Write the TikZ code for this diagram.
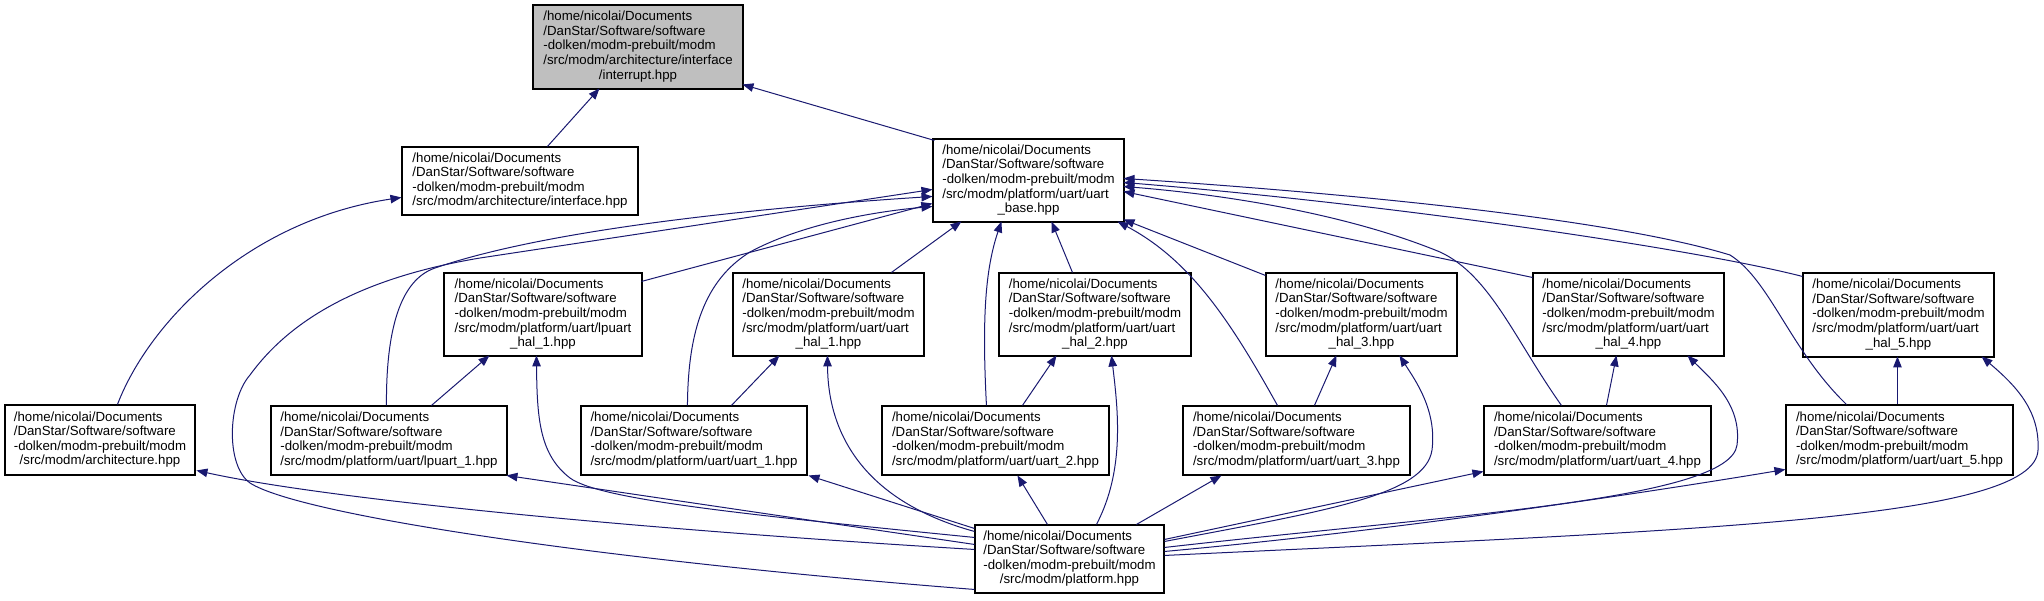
\documentclass[tikz,border=0pt]{standalone}
\usepackage{fontspec}
\setmainfont{Liberation Sans}
\usetikzlibrary{arrows.meta,calc}
\definecolor{edgecol}{HTML}{191970}
\definecolor{hlfill}{HTML}{BFBFBF}
\newcommand\flbl[2]{\begin{tabular}{@{}l@{}}#1\\\multicolumn{1}{@{}c@{}}{#2}\end{tabular}}
\begin{document}
\begin{tikzpicture}[x=1pt,y=-1pt,
  filebox/.style={draw=black, line width=1.1pt, inner sep=0pt, fill=white,
    font=\fontsize{13.25}{14.6}\selectfont},
  dep/.style={draw=edgecol, line width=1pt, -{Triangle[length=11pt,width=8.5pt]}}]
\useasboundingbox (0,0) rectangle (2044,600);
% nodes
\node[filebox, fill=hlfill, minimum width=210pt, minimum height=84pt] (intr) at (638,47)
  {\flbl{/home/nicolai/Documents\\/DanStar/Software/software\\-dolken/modm-prebuilt/modm\\/src/modm/architecture/interface}{/interrupt.hpp}};
\node[filebox, minimum width=236pt, minimum height=68pt] (iface) at (520,181)
  {\flbl{/home/nicolai/Documents\\/DanStar/Software/software\\-dolken/modm-prebuilt/modm}{/src/modm/architecture/interface.hpp}};
\node[filebox, minimum width=191pt, minimum height=83pt] (ubase) at (1028.5,180.5)
  {\flbl{/home/nicolai/Documents\\/DanStar/Software/software\\-dolken/modm-prebuilt/modm\\/src/modm/platform/uart/uart}{\_base.hpp}};
\node[filebox, minimum width=190pt, minimum height=70pt] (arch) at (100,440)
  {\flbl{/home/nicolai/Documents\\/DanStar/Software/software\\-dolken/modm-prebuilt/modm}{/src/modm/architecture.hpp}};
\node[filebox, minimum width=198pt, minimum height=83pt] (lph1) at (543,314.5)
  {\flbl{/home/nicolai/Documents\\/DanStar/Software/software\\-dolken/modm-prebuilt/modm\\/src/modm/platform/uart/lpuart}{\_hal\_1.hpp}};
\node[filebox, minimum width=191pt, minimum height=83pt] (uh1) at (828.5,314.5)
  {\flbl{/home/nicolai/Documents\\/DanStar/Software/software\\-dolken/modm-prebuilt/modm\\/src/modm/platform/uart/uart}{\_hal\_1.hpp}};
\node[filebox, minimum width=192pt, minimum height=83pt] (uh2) at (1095,314.5)
  {\flbl{/home/nicolai/Documents\\/DanStar/Software/software\\-dolken/modm-prebuilt/modm\\/src/modm/platform/uart/uart}{\_hal\_2.hpp}};
\node[filebox, minimum width=191pt, minimum height=83pt] (uh3) at (1361.5,314.5)
  {\flbl{/home/nicolai/Documents\\/DanStar/Software/software\\-dolken/modm-prebuilt/modm\\/src/modm/platform/uart/uart}{\_hal\_3.hpp}};
\node[filebox, minimum width=191pt, minimum height=83pt] (uh4) at (1628.5,314.5)
  {\flbl{/home/nicolai/Documents\\/DanStar/Software/software\\-dolken/modm-prebuilt/modm\\/src/modm/platform/uart/uart}{\_hal\_4.hpp}};
\node[filebox, minimum width=191pt, minimum height=84pt] (uh5) at (1898.5,315)
  {\flbl{/home/nicolai/Documents\\/DanStar/Software/software\\-dolken/modm-prebuilt/modm\\/src/modm/platform/uart/uart}{\_hal\_5.hpp}};
\node[filebox, minimum width=236pt, minimum height=69pt] (lp1) at (389,440.5)
  {\flbl{/home/nicolai/Documents\\/DanStar/Software/software\\-dolken/modm-prebuilt/modm}{/src/modm/platform/uart/lpuart\_1.hpp}};
\node[filebox, minimum width=226pt, minimum height=69pt] (u1) at (694,440.5)
  {\flbl{/home/nicolai/Documents\\/DanStar/Software/software\\-dolken/modm-prebuilt/modm}{/src/modm/platform/uart/uart\_1.hpp}};
\node[filebox, minimum width=227pt, minimum height=69pt] (u2) at (995.5,440.5)
  {\flbl{/home/nicolai/Documents\\/DanStar/Software/software\\-dolken/modm-prebuilt/modm}{/src/modm/platform/uart/uart\_2.hpp}};
\node[filebox, minimum width=227pt, minimum height=69pt] (u3) at (1296.5,440.5)
  {\flbl{/home/nicolai/Documents\\/DanStar/Software/software\\-dolken/modm-prebuilt/modm}{/src/modm/platform/uart/uart\_3.hpp}};
\node[filebox, minimum width=227pt, minimum height=69pt] (u4) at (1597.5,440.5)
  {\flbl{/home/nicolai/Documents\\/DanStar/Software/software\\-dolken/modm-prebuilt/modm}{/src/modm/platform/uart/uart\_4.hpp}};
\node[filebox, minimum width=227pt, minimum height=70pt] (u5) at (1899.5,440)
  {\flbl{/home/nicolai/Documents\\/DanStar/Software/software\\-dolken/modm-prebuilt/modm}{/src/modm/platform/uart/uart\_5.hpp}};
\node[filebox, minimum width=189pt, minimum height=68pt] (plat) at (1069.5,559)
  {\flbl{/home/nicolai/Documents\\/DanStar/Software/software\\-dolken/modm-prebuilt/modm}{/src/modm/platform.hpp}};
% edges
\draw[dep] ($(iface.north west)+(146,0)$) -- ($(intr.north west)+(67,84)$);
\draw[dep] ($(ubase.north west)+(2,2)$) -- ($(intr.north west)+(210,80)$);
\draw[dep] ($(arch.north west)+(113,0)$) .. controls (150,320) and (250,220) .. ($(iface.north west)+(0,51)$);
\draw[dep] ($(lph1.north west)+(198,9)$) -- ($(ubase.north west)+(0,65)$);
\draw[dep] ($(uh1.north west)+(159,0)$) -- ($(ubase.north west)+(29,83)$);
\draw[dep] ($(uh2.north west)+(74,0)$) -- ($(ubase.north west)+(119,83)$);
\draw[dep] ($(uh3.north west)+(0,3)$) -- ($(ubase.north west)+(191,81)$);
\draw[dep] ($(uh4.north west)+(0,5)$) -- ($(ubase.north west)+(191,53)$);
\draw[dep] ($(uh5.north west)+(0,4)$) .. controls (1700,250) and (1400,205) .. ($(ubase.north west)+(191,44)$);
\draw[dep] ($(u3.north west)+(95,0)$) .. controls (1230,320) and (1190,260) .. ($(ubase.north west)+(185,83)$);
\draw[dep] ($(u4.north west)+(78,0)$) .. controls (1515,340) and (1490,275) .. (1440,252) .. controls (1350,215) and (1230,195) .. ($(ubase.north west)+(191,48)$);
\draw[dep] ($(u5.north west)+(61,0)$) .. controls (1790,350) and (1770,280) .. (1730,255) .. controls (1600,215) and (1300,190) .. ($(ubase.north west)+(191,40)$);
\draw[dep] ($(lp1.north west)+(116,0)$) .. controls (386,330) and (400,280) .. (435,268) .. controls (560,225) and (800,205) .. ($(ubase.north west)+(0,58)$);
\draw[dep] ($(u1.north west)+(107,0)$) .. controls (688,330) and (705,280) .. (750,252) .. controls (800,225) and (870,212) .. ($(ubase.north west)+(0,68)$);
\draw[dep] ($(u2.north west)+(105,0)$) .. controls (982,320) and (985,270) .. ($(ubase.north west)+(69,83)$);
\draw[dep] ($(plat.north west)+(0,65)$) .. controls (600,560) and (300,515) .. (250,483) .. controls (225,465) and (228,400) .. (250,375) .. controls (290,320) and (360,278) .. (480,258) -- ($(ubase.north west)+(0,51)$);
\draw[dep] ($(lp1.north west)+(161,0)$) -- ($(lph1.north west)+(46,83)$);
\draw[dep] ($(plat.north west)+(0,13)$) .. controls (750,515) and (600,500) .. (570,478) .. controls (540,455) and (537,420) .. ($(lph1.north west)+(93,83)$);
\draw[dep] ($(u1.north west)+(151,0)$) -- ($(uh1.north west)+(47,83)$);
\draw[dep] ($(plat.north west)+(0,7)$) .. controls (860,500) and (828,430) .. ($(uh1.north west)+(95,83)$);
\draw[dep] ($(u2.north west)+(141,0)$) -- ($(uh2.north west)+(58,83)$);
\draw[dep] ($(plat.north west)+(122,0)$) .. controls (1125,470) and (1118,410) .. ($(uh2.north west)+(113,83)$);
\draw[dep] ($(u3.north west)+(132,0)$) -- ($(uh3.north west)+(71,83)$);
\draw[dep] ($(plat.north east)+(0,17)$) .. controls (1330,510) and (1425,495) .. (1432,450) .. controls (1437,410) and (1415,380) .. ($(uh3.north west)+(134,83)$);
\draw[dep] ($(u4.north west)+(123,0)$) -- ($(uh4.north west)+(84,83)$);
\draw[dep] ($(plat.north east)+(0,23)$) .. controls (1450,515) and (1730,500) .. (1737,445) .. controls (1742,405) and (1712,380) .. ($(uh4.north west)+(155,83)$);
\draw[dep] ($(u5.north west)+(112,0)$) -- ($(uh5.north west)+(95,84)$);
\draw[dep] ($(plat.north east)+(0,31)$) .. controls (1700,530) and (2035,520) .. (2038,450) .. controls (2040,410) and (2015,385) .. ($(uh5.north west)+(179,84)$);
\draw[dep] ($(plat.north west)+(0,25)$) .. controls (650,530) and (330,500) .. ($(arch.north west)+(192,66)$);
\draw[dep] ($(plat.north west)+(0,20)$) -- ($(lp1.north west)+(236,70)$);
\draw[dep] ($(plat.north west)+(0,4)$) -- ($(u1.north west)+(228,70)$);
\draw[dep] ($(plat.north west)+(73,0)$) -- ($(u2.north west)+(136,70)$);
\draw[dep] ($(plat.north west)+(162,0)$) -- ($(u3.north west)+(39,70)$);
\draw[dep] ($(plat.north east)+(0,15)$) -- ($(u4.north west)+(0,66)$);
\draw[dep] ($(plat.north east)+(0,27)$) .. controls (1400,530) and (1650,492) .. ($(u5.north west)+(0,65)$);
\end{tikzpicture}
\end{document}
